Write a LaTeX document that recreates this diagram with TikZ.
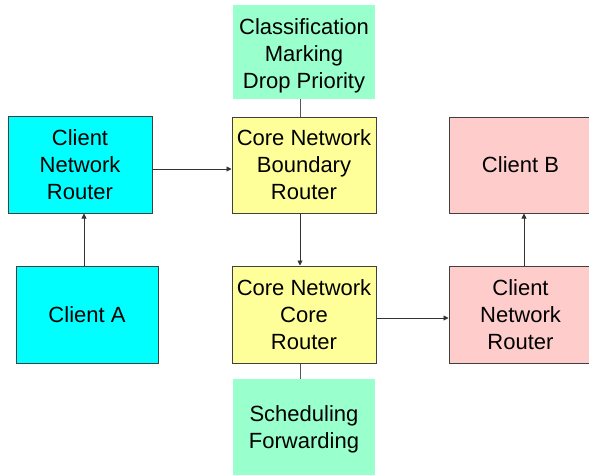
\documentclass[tikz,border=0pt]{standalone}
\usepackage{fontspec}
\setmainfont{Liberation Sans}
\usetikzlibrary{arrows.meta}
\definecolor{cyanbox}{HTML}{00FFFF}
\definecolor{yelbox}{HTML}{FFFF99}
\definecolor{pinkbox}{HTML}{FFCCCC}
\definecolor{greenbox}{HTML}{99FFCC}
\definecolor{edgegray}{HTML}{404040}
\definecolor{linegray}{HTML}{555555}
\begin{document}
\begin{tikzpicture}[x=1pt,y=-1pt,
  box/.style={rectangle,draw=edgegray,line width=1pt,inner sep=0pt,align=center,
    font=\fontsize{22}{27}\selectfont},
  note/.style={rectangle,inner sep=0pt,align=center,font=\fontsize{22}{27}\selectfont},
  arr/.style={draw=black!80,line width=0.9pt,-{Triangle[length=5pt,width=5pt]}},
  conn/.style={draw=linegray,line width=0.9pt}]
\clip (0,0) rectangle (589,475);
\fill[white] (0,0) rectangle (589,475);
\node[box,fill=cyanbox,minimum width=144,minimum height=97] (cnr1) at (80,164.5) {Client\\Network\\Router};
\node[box,fill=yelbox,minimum width=144,minimum height=96] (cb) at (304,165) {Core Network\\Boundary\\Router};
\node[note,fill=greenbox,minimum width=142,minimum height=94] (cls) at (304,52) {};
\node[note] (clstext) at ([yshift=-3.5]cls.center) {Classification\\Marking\\Drop Priority};
\node[box,fill=pinkbox,minimum width=143,minimum height=96] (clientB) at (520.5,165) {Client B};
\node[box,fill=yelbox,minimum width=144,minimum height=97] (ccr) at (304,314.5) {Core Network\\Core\\Router};
\node[box,fill=pinkbox,minimum width=143,minimum height=97] (cnr2) at (520.5,314.5) {Client\\Network\\Router};
\node[box,fill=cyanbox,minimum width=142,minimum height=97] (clientA) at (87,314.5) {Client A};
\node[note,fill=greenbox,minimum width=142,minimum height=96] (sched) at (304,427) {};
\node[note] (schedtext) at ([yshift=-2]sched.center) {Scheduling\\Forwarding};
\draw[arr] ([xshift=-3]clientA.north) -- ([xshift=4]cnr1.south);
\draw[arr] ([yshift=-4.5]cnr1.east) -- ([yshift=-4]cb.west);
\draw[arr] ([xshift=-4]cb.south) -- ([xshift=-4]ccr.north);
\draw[arr] ([yshift=-3.5]ccr.east) -- ([yshift=-3.5]cnr2.west);
\draw[arr] ([xshift=3.5]cnr2.north) -- ([xshift=3.5]clientB.south);
\draw[conn] ([xshift=-4]cls.south) -- ([xshift=-4]cb.north);
\draw[conn] ([xshift=-4]sched.north) -- ([xshift=-4]ccr.south);
\end{tikzpicture}
\end{document}
